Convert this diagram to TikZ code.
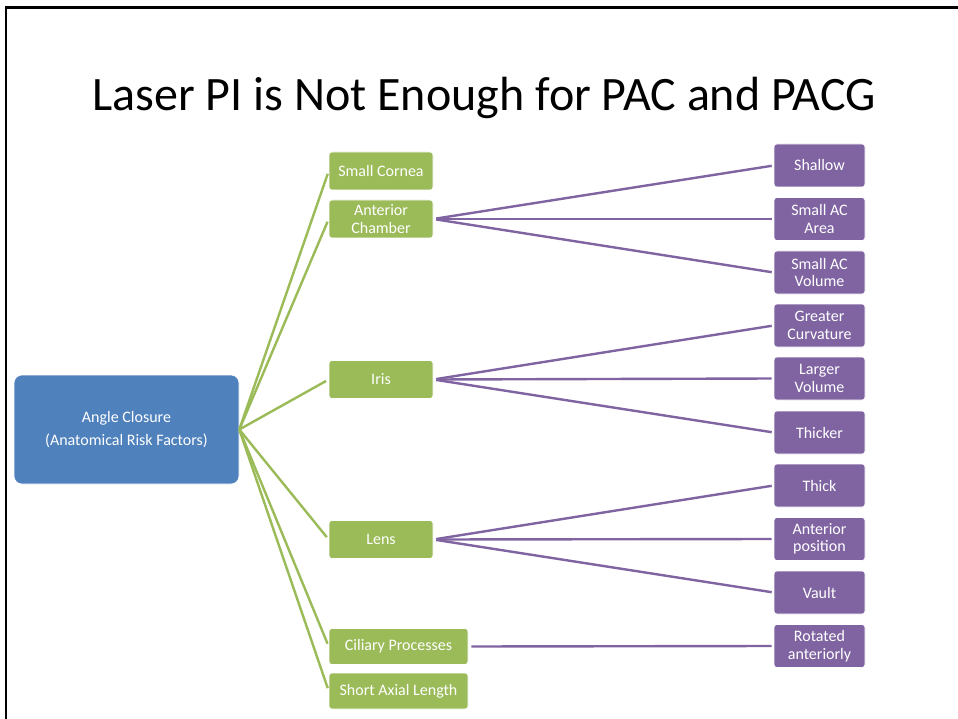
\documentclass[tikz,border=0pt]{standalone}
\usepackage{fontspec}
\setmainfont{Carlito}
\definecolor{blueA}{HTML}{4F81BD}
\definecolor{greenA}{HTML}{9BBB59}
\definecolor{purpA}{HTML}{8064A2}
\begin{document}
\begin{tikzpicture}[x=1pt,y=-1pt,
  box/.style={draw=white, line width=0.6pt, rounded corners=3pt, text=white, align=center, inner sep=0pt,
              font=\fontsize{16}{17.5}\selectfont},
  gbox/.style={box, fill=greenA, minimum width=104pt, minimum height=38pt},
  wgbox/.style={box, fill=greenA, minimum width=139pt, minimum height=36pt},
  pbox/.style={box, fill=purpA, minimum width=91pt, minimum height=43pt},
  bbox/.style={box, fill=blueA, minimum width=225pt, minimum height=109pt, rounded corners=8pt},
  gline/.style={draw=greenA, line width=2.4pt, shorten >=3pt},
  pline/.style={draw=purpA, line width=2.4pt, shorten <=3pt, shorten >=2pt}
]
\useasboundingbox (0,0) rectangle (958,719);
\fill[white] (0,0) rectangle (958,719);
% slide frame
\draw[line width=2.5pt] (958,7.3) -- (6.2,7.3) -- (6.2,719);
% title
\node[anchor=base, font=\fontsize{48}{56}\selectfont, inner sep=0pt] (title) at (484,110.5) {Laser PI is Not Enough for PAC and PACG};
% root
\node[bbox] (root) at (126.5,429.5) {Angle Closure\\[6pt](Anatomical Risk Factors)};
% level 1
\node[gbox] (sc) at (381,171) {Small Cornea};
\node[gbox] (ac) at (381,219) {Anterior\\Chamber};
\node[gbox] (iris) at (381,379.5) {Iris};
\node[gbox] (lens) at (381,539.5) {Lens};
\node[wgbox] (cp) at (398.5,646.5) {Ciliary Processes};
\node[wgbox] (sal) at (398.5,691) {Short Axial Length};
% level 2
\node[pbox] (sh) at (819.5,165.5) {Shallow};
\node[pbox] (sa) at (819.5,219) {Small AC\\Area};
\node[pbox] (sv) at (819.5,272.5) {Small AC\\Volume};
\node[pbox] (gc) at (819.5,325.5) {Greater\\Curvature};
\node[pbox] (lv) at (819.5,378.5) {Larger\\Volume};
\node[pbox] (tk) at (819.5,432.5) {Thicker};
\node[pbox] (th) at (819.5,485.5) {Thick};
\node[pbox] (ap) at (819.5,539) {Anterior\\position};
\node[pbox] (va) at (819.5,592.5) {Vault};
\node[pbox] (ra) at (819.5,646) {Rotated\\anteriorly};
% connectors
\foreach \c in {sc,ac,iris,lens,cp,sal}
  \draw[gline] (root.east) -- (\c.west);
\foreach \p in {sh,sa,sv} \draw[pline] (ac.east) -- (\p.west);
\foreach \p in {gc,lv,tk} \draw[pline] (iris.east) -- (\p.west);
\foreach \p in {th,ap,va} \draw[pline] (lens.east) -- (\p.west);
\draw[pline] (cp.east) -- (ra.west);
\end{tikzpicture}
\end{document}
